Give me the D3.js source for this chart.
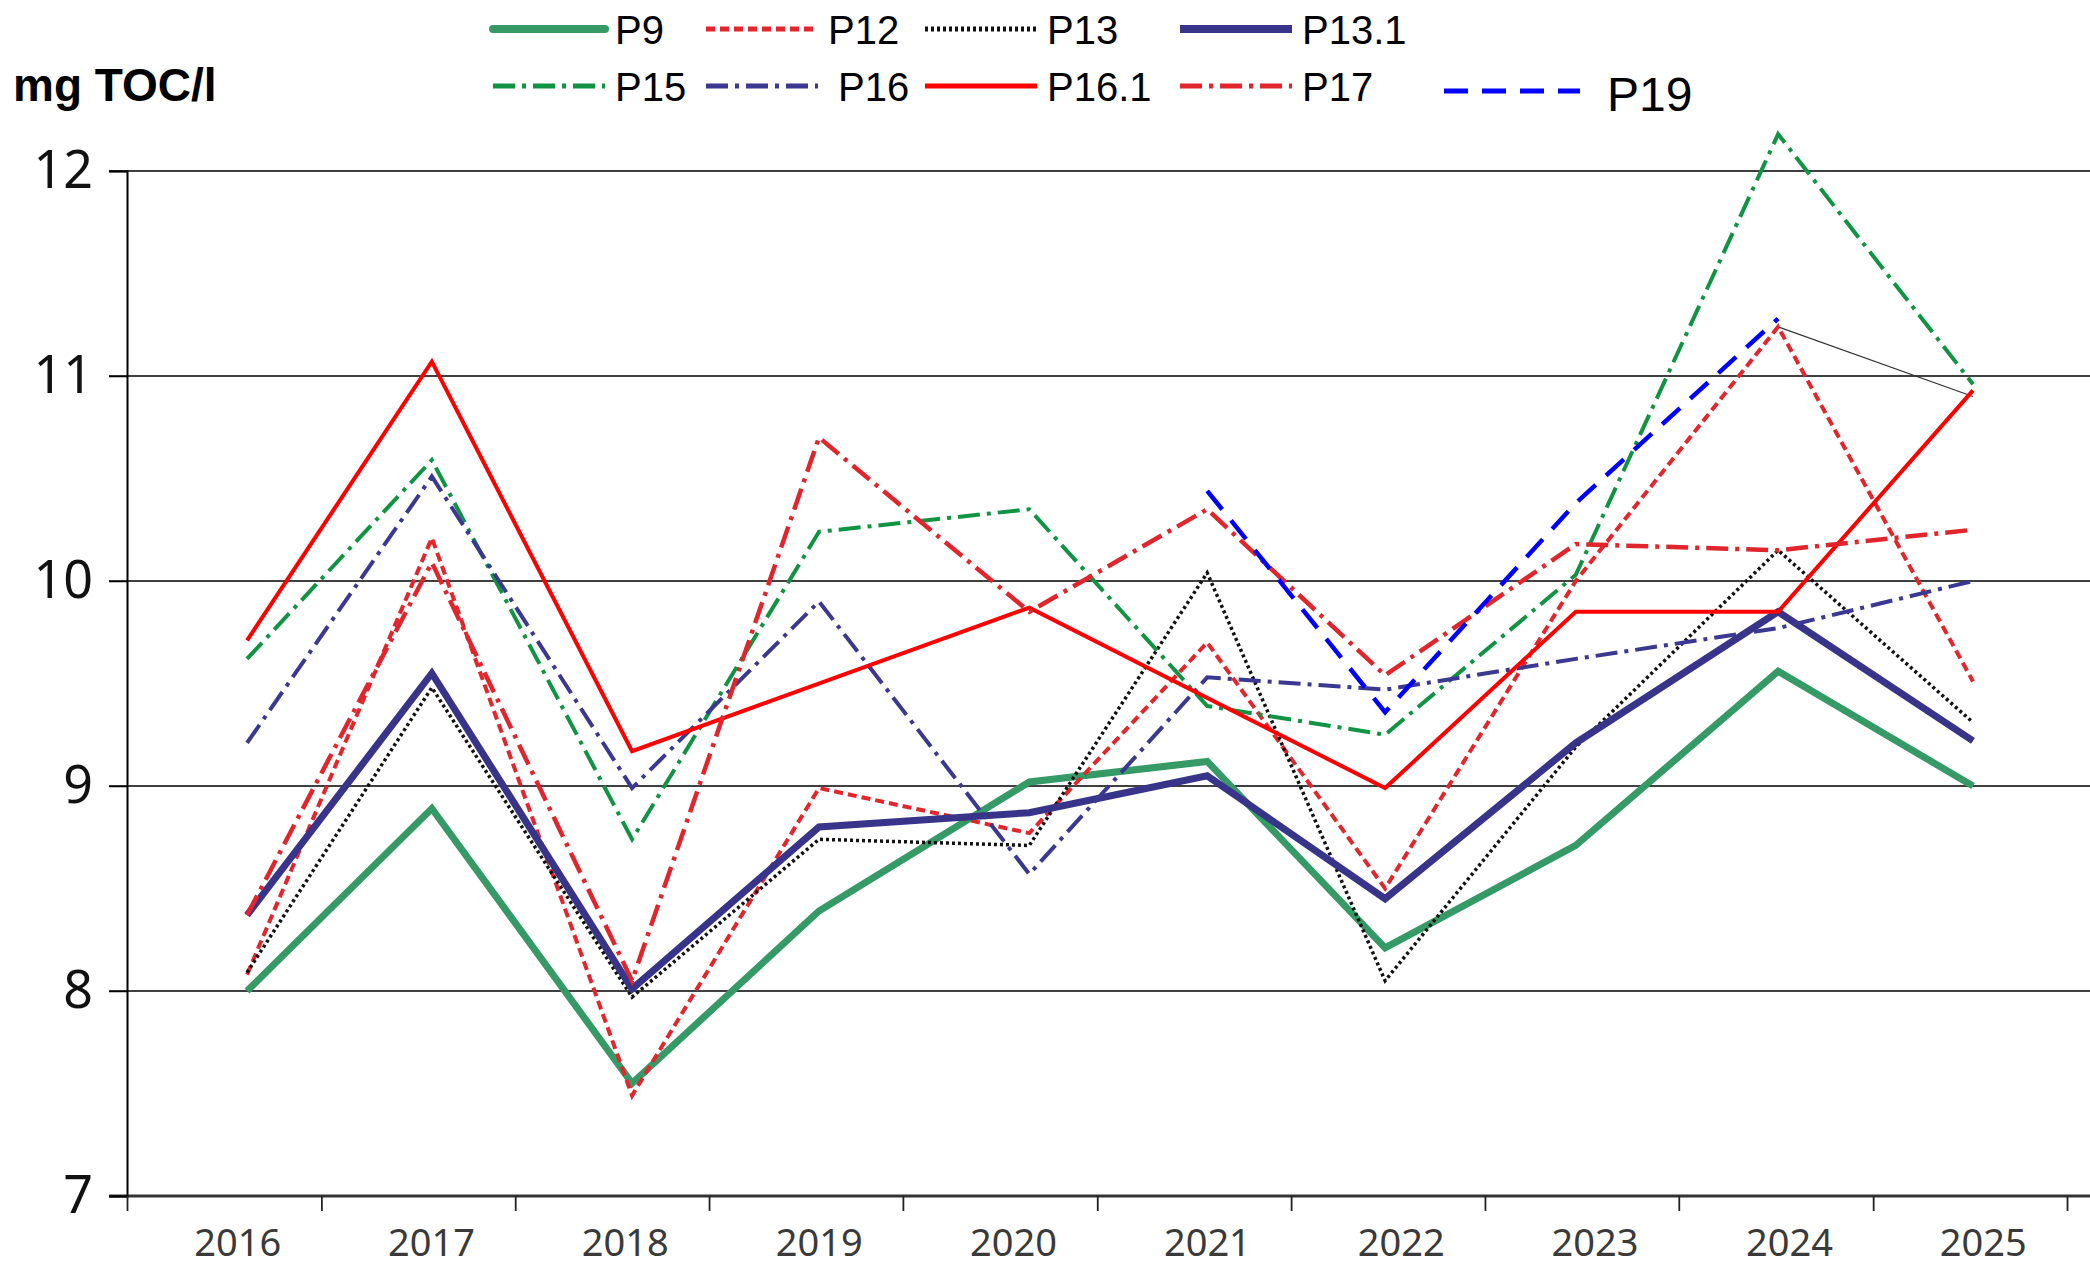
<!DOCTYPE html>
<html>
<head>
<meta charset="utf-8">
<script src="https://cdn.jsdelivr.net/npm/d3@7"></script>
<style>
  body { margin: 0; background: #fff; }
</style>
</head>
<body>
<svg id="chart"></svg>
<script>
// sampling dates (one campaign per year)
const sampleDates = ["2016-08-14", "2017-07-28", "2018-08-09", "2019-07-27", "2020-08-26",
                     "2021-07-27", "2022-06-27", "2023-06-21", "2024-07-06", "2025-07-08"];
const yearLabels = [2016, 2017, 2018, 2019, 2020, 2021, 2022, 2023, 2024, 2025];
const yTicks = [7, 8, 9, 10, 11, 12];

// mg TOC/l per point (null = no sample)
const p9   = [8.00, 8.89, 7.55, 8.39, 9.02, 9.12, 8.21, 8.71, 9.56, 9.00];
const p12  = [8.08, 10.21, 7.49, 8.99, 8.77, 9.70, 8.50, 10.00, 11.24, 9.51];
const p13  = [8.09, 9.48, 7.97, 8.74, 8.71, 10.04, 8.05, 9.19, 10.15, 9.31];
const p131 = [8.37, 9.55, 8.01, 8.80, 8.87, 9.05, 8.45, 9.21, 9.85, 9.22];
const p15  = [9.62, 10.59, 8.74, 10.24, 10.35, 9.39, 9.25, 10.03, 12.18, 10.96];
const p16  = [9.21, 10.51, 8.99, 9.90, 8.57, 9.53, 9.47, 9.62, 9.77, 10.00];
const p161 = [9.71, 11.07, 9.17, null, 9.87, null, 8.99, 9.85, 9.85, 10.93];
const p17  = [8.37, 10.09, 8.05, 10.70, 9.85, 10.35, 9.54, 10.18, 10.15, 10.25];
const p19  = [null, null, null, null, null, 10.44, 9.36, 10.38, 11.28, null];
// stray thin black segment seen between the last two campaigns
const extra = [null, null, null, null, null, null, null, null, 11.24, 10.90];

const width = 2090, height = 1266;
const fontsize = 38;

const parseDate = d3.timeParse("%Y-%m-%d");
const dates = sampleDates.map(parseDate);

const series = [
  { name: "P9",    values: p9,   color: "#359a66", w: 7,   dash: null },
  { name: "P12",   values: p12,  color: "#e3262c", w: 4,   dash: "9,5" },
  { name: "P13",   values: p13,  color: "#111",    w: 3.5, dash: "3,3" },
  { name: "P13.1", values: p131, color: "#37348a", w: 7,   dash: null },
  { name: "P15",   values: p15,  color: "#109443", w: 4,   dash: "22,7,4,7" },
  { name: "P16",   values: p16,  color: "#3a3890", w: 4,   dash: "22,7,4,7" },
  { name: "P16.1", values: p161, color: "#ff0000", w: 4,   dash: null },
  { name: "P17",   values: p17,  color: "#e0262c", w: 4.5, dash: "22,7,4,7" },
  { name: "P19",   values: p19,  color: "#0000ff", w: 4.5, dash: "24,14" }
];

const svg = d3.select("#chart").attr("width", width).attr("height", height);

//********** scales
const xScale = d3.scaleTime()
  .domain([new Date(2016, 0, 1), new Date(2026, 0, 1)])
  .range([127, 2067]);
const yScale = d3.scaleLinear().domain([7, 12]).range([1196, 171]);

//********** grid
svg.append("g").attr("class", "grid")
  .selectAll("line").data(yTicks).enter()
  .append("line")
  .attr("x1", 109).attr("x2", width)
  .attr("y1", d => yScale(d)).attr("y2", d => yScale(d))
  .attr("stroke", d => d === 7 ? "#333" : "#000")
  .attr("stroke-width", d => d === 7 ? 3 : 1.5);

//********** y axis
const yAxisG = svg.append("g")
  .attr("transform", "translate(127,0)")
  .call(d3.axisLeft(yScale).tickValues(yTicks).tickFormat(d3.format("d")).tickSize(18).tickPadding(16));
yAxisG.select(".domain").attr("stroke", "#000").attr("stroke-width", 2);
yAxisG.selectAll(".tick line").attr("stroke-width", 1.5);
yAxisG.selectAll("text")
  .style("font-size", 52)
  .style("font-family", "'Noto Sans', sans-serif")
  .attr("fill", "#111");

//********** x axis (ticks at year boundaries)
const yearStarts = d3.range(2016, 2027).map(y => new Date(y, 0, 1));
const xAxisG = svg.append("g")
  .attr("transform", "translate(0,1196)")
  .call(d3.axisBottom(xScale).tickValues(yearStarts).tickSize(15).tickFormat(""));
xAxisG.select(".domain").remove();
xAxisG.selectAll(".tick line").attr("stroke", "#222").attr("stroke-width", 1.8);

svg.append("g").attr("class", "xlab")
  .selectAll("text").data(yearLabels).enter()
  .append("text")
  .attr("x", d => xScale(new Date(d, 6, 1)) + 14)
  .attr("y", 1256)
  .attr("text-anchor", "middle")
  .text(d => d)
  .style("font-size", fontsize)
  .style("font-family", "'Noto Sans', sans-serif")
  .attr("fill", "#3a3a3a");

//********** lines
const line = d3.line()
  .x(d => xScale(d.date))
  .y(d => yScale(d.v));

const toPoints = vals => vals.map((v, i) => ({ date: dates[i], v: v })).filter(d => d.v !== null);

svg.append("path")
  .attr("d", line(toPoints(extra)))
  .attr("fill", "none")
  .attr("stroke", "#333")
  .attr("stroke-width", 1.3);

svg.append("g").attr("class", "lines")
  .selectAll("path").data(series).enter()
  .append("path")
  .attr("d", d => line(toPoints(d.values)))
  .attr("fill", "none")
  .attr("stroke", d => d.color)
  .attr("stroke-width", d => d.w)
  .attr("stroke-dasharray", d => d.dash)
  .attr("stroke-linejoin", "miter");

//********** y label
svg.append("text")
  .attr("x", 13).attr("y", 101)
  .text("mg TOC/l")
  .style("font-size", 46)
  .style("font-weight", 700)
  .style("font-family", "'Liberation Sans', Arial, sans-serif")
  .attr("fill", "#000");

//********** legend
const legendCols = [493, 706, 925, 1180, 1444];
const legend = svg.append("g").attr("class", "legend")
  .selectAll("g").data(series).enter()
  .append("g")
  .attr("transform", (d, i) => {
    const row = i < 4 ? 0 : 1;
    const col = i < 4 ? i : i - 4;
    return `translate(${legendCols[col]},${row === 0 ? 29 : 86})`;
  });

legend.append("line")
  .attr("x1", 0)
  .attr("x2", d => d.name === "P19" ? 136 : 112)
  .attr("y1", d => d.name === "P19" ? 5 : 0)
  .attr("y2", d => d.name === "P19" ? 5 : 0)
  .attr("stroke", d => d.color)
  .attr("stroke-width", d => d.w === 7 ? 8 : 5)
  .attr("stroke-linecap", d => d.name === "P9" ? "round" : "butt")
  .attr("stroke-dasharray", d => d.dash);

legend.append("text")
  .attr("x", d => d.name === "P19" ? 163 : (d.name === "P16" ? 132 : 122))
  .attr("y", d => d.name === "P19" ? 25 : 15)
  .text(d => d.name)
  .style("font-size", d => d.name === "P19" ? 48 : 40)
  .style("font-family", d => d.name === "P19"
      ? "'Liberation Sans', Arial, sans-serif"
      : "'Liberation Sans Narrow', 'Liberation Sans', Arial, sans-serif")
  .attr("fill", "#000");
</script>
</body>
</html>
